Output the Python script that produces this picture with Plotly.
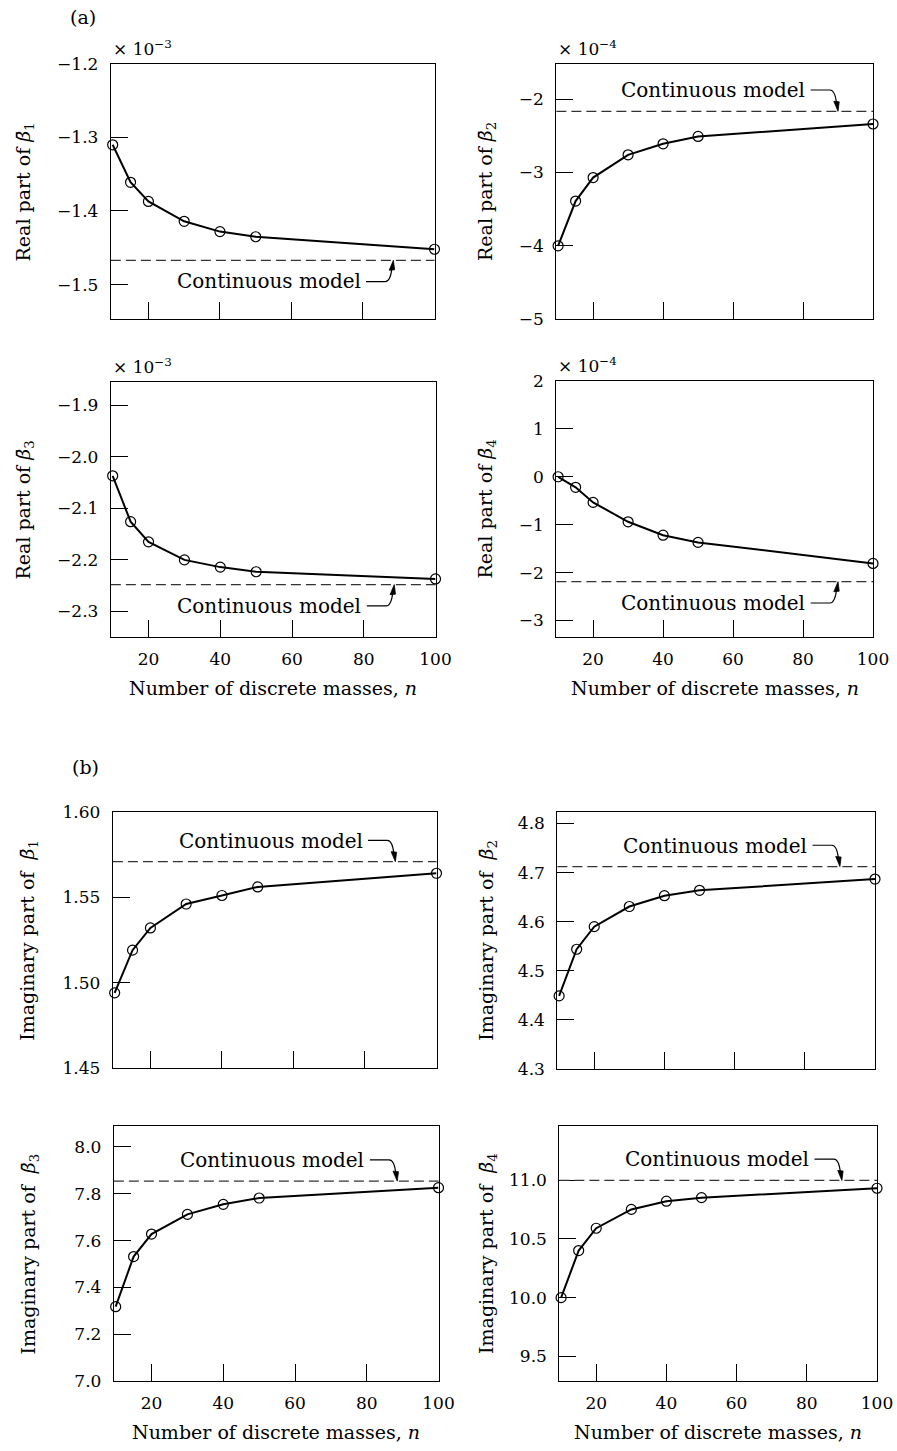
import plotly.graph_objects as go

# ---------------- data ----------------
n_masses = [10, 15, 20, 30, 40, 50, 100]

# (a) real parts (re_beta1, re_beta3 in units of 1e-3; re_beta2, re_beta4 in units of 1e-4)
re_beta1 = [-1.310, -1.361, -1.387, -1.414, -1.428, -1.435, -1.452]
re_beta2 = [-4.00, -3.39, -3.07, -2.76, -2.61, -2.51, -2.34]
re_beta3 = [-2.037, -2.126, -2.165, -2.200, -2.214, -2.223, -2.237]
re_beta4 = [0.00, -0.22, -0.535, -0.94, -1.22, -1.37, -1.81]
continuous_re = [-1.467, -2.167, -2.248, -2.19]

# (b) imaginary parts
im_beta1 = [1.494, 1.519, 1.532, 1.546, 1.551, 1.556, 1.564]
im_beta2 = [4.449, 4.544, 4.590, 4.631, 4.653, 4.664, 4.687]
im_beta3 = [7.318, 7.532, 7.628, 7.712, 7.755, 7.782, 7.826]
im_beta4 = [10.00, 10.40, 10.59, 10.75, 10.82, 10.85, 10.93]
continuous_im = [1.5708, 4.7124, 7.854, 10.996]

x_ticks = [20, 40, 60, 80, 100]
x_title = "Number of discrete masses, <i>n</i>"

# ---------------- layout configuration ----------------
W, H = 897, 1451
FONT = "DejaVu Serif"
XR = (9.5, 100)

# calibration of the photographed page (measured): target px -> figure px
SX = 882 / 897
SY = 1435 / 1451
OY = 8
S = (SX + SY) / 2


def fx(p):           # target x pixel -> paper fraction
    return (p / SX) / W


def fy(p):           # target y pixel -> paper fraction (from bottom)
    return 1 - ((p - OY) / SY) / H


def sz(v):           # target pixel length -> figure pixel length
    return v / S


panels = [
    dict(y=re_beta1, cont=continuous_re[0], xd=(111, 435), yd=(62, 318), yr=(-1.547, -1.2),
         tv=[-1.5, -1.4, -1.3, -1.2], tf=".1f", title="Real part of <i>β̄</i><sub>1</sub>",
         side=-1, mult="× 10<sup>−3</sup>", xlab=False, tx=25, tipn=88.5),
    dict(y=re_beta2, cont=continuous_re[1], xd=(557, 874), yd=(62, 318), yr=(-5, -1.52),
         tv=[-5, -4, -3, -2], tf="d", title="Real part of <i>β̄</i><sub>2</sub>",
         side=1, mult="× 10<sup>−4</sup>", xlab=False, tx=487, tipn=90),
    dict(y=re_beta3, cont=continuous_re[2], xd=(111, 436), yd=(381, 637), yr=(-2.35, -1.855),
         tv=[-2.3, -2.2, -2.1, -2.0, -1.9], tf=".1f", title="Real part of <i>β̄</i><sub>3</sub>",
         side=-1, mult="× 10<sup>−3</sup>", xlab=True, tx=25, tipn=88.5),
    dict(y=re_beta4, cont=continuous_re[3], xd=(557, 874), yd=(380, 637), yr=(-3.35, 2),
         tv=[-3, -2, -1, 0, 1, 2], tf="d", title="Real part of <i>β̄</i><sub>4</sub>",
         side=-1, mult="× 10<sup>−4</sup>", xlab=True, tx=487, tipn=90),
    dict(y=im_beta1, cont=continuous_im[0], xd=(113, 437), yd=(812, 1069), yr=(1.45, 1.60),
         tv=[1.45, 1.50, 1.55, 1.60], tf=".2f", title="Imaginary part of  <i>β̄</i><sub>1</sub>",
         side=1, mult=None, xlab=False, tx=29, tipn=88.5),
    dict(y=im_beta2, cont=continuous_im[1], xd=(558, 876), yd=(812, 1070), yr=(4.3, 4.824),
         tv=[4.3, 4.4, 4.5, 4.6, 4.7, 4.8], tf=".1f", title="Imaginary part of  <i>β̄</i><sub>2</sub>",
         side=1, mult=None, xlab=False, tx=488, tipn=90),
    dict(y=im_beta3, cont=continuous_im[2], xd=(114, 439), yd=(1127, 1383), yr=(7.0, 8.09),
         tv=[7.0, 7.2, 7.4, 7.6, 7.8, 8.0], tf=".1f", title="Imaginary part of  <i>β̄</i><sub>3</sub>",
         side=1, mult=None, xlab=True, tx=30, tipn=88.5),
    dict(y=im_beta4, cont=continuous_im[3], xd=(560, 878), yd=(1127, 1383), yr=(9.29, 11.46),
         tv=[9.5, 10.0, 10.5, 11.0], tf=".1f", title="Imaginary part of  <i>β̄</i><sub>4</sub>",
         side=1, mult=None, xlab=True, tx=488, tipn=90),
]

fig = go.Figure()
annotations = []
shapes = []

F_TICK, F_TITLE, F_LABEL = round(sz(17)), round(sz(19)), round(sz(20))
LEAD = sz(21)

for i, p in enumerate(panels):
    k = "" if i == 0 else str(i + 1)
    xa, ya = "x" + k, "y" + k
    xaxis_name, yaxis_name = "xaxis" + k, "yaxis" + k

    fig.add_trace(go.Scatter(
        x=n_masses, y=p["y"], xaxis=xa, yaxis=ya, mode="lines+markers",
        line=dict(color="black", width=2),
        marker=dict(symbol="circle-open", size=10, color="black", line=dict(width=1.2)),
        cliponaxis=False, showlegend=False, hoverinfo="skip"))

    axis_common = dict(showline=True, linecolor="black", linewidth=1.2, mirror=True,
                       showgrid=False, zeroline=False, ticks="inside", ticklen=round(sz(17)),
                       tickwidth=1.2, tickcolor="black",
                       tickfont=dict(family=FONT, size=F_TICK, color="black"))
    fig.layout[xaxis_name] = dict(
        axis_common, domain=[fx(p["xd"][0]), fx(p["xd"][1])], range=list(XR),
        tickmode="array", tickvals=x_ticks, showticklabels=p["xlab"], anchor=ya,
        ticklabelstandoff=6)
    fig.layout[yaxis_name] = dict(
        axis_common, domain=[fy(p["yd"][1]), fy(p["yd"][0])], range=list(p["yr"]),
        tickmode="array", tickvals=p["tv"], tickformat=p["tf"], anchor=xa,
        ticklabelstandoff=8)

    # continuous model (dashed)
    shapes.append(dict(type="line", xref=xa + " domain", yref=ya, x0=0, x1=1,
                       y0=p["cont"], y1=p["cont"],
                       line=dict(color="#333333", width=1.2, dash="10px,5px")))

    # leader line + arrow head, pixel geometry anchored at the arrow tip
    s = p["side"]
    tip_x = p["tipn"]
    shapes.append(dict(type="path", xref=xa, yref=ya, xsizemode="pixel", ysizemode="pixel",
                       xanchor=tip_x, yanchor=p["cont"],
                       path=(f"M {-sz(27):.1f},{LEAD*s:.1f} L {-sz(8):.1f},{LEAD*s:.1f} "
                             f"Q {-sz(3):.1f},{LEAD*s:.1f} {-sz(1.5):.1f},{sz(8)*s:.1f}"),
                       line=dict(color="black", width=1.2)))
    shapes.append(dict(type="path", xref=xa, yref=ya, xsizemode="pixel", ysizemode="pixel",
                       xanchor=tip_x, yanchor=p["cont"],
                       path=f"M 0,0 L -4.2,{10*s} L 1.2,{9.5*s} Z",
                       fillcolor="black", line=dict(color="black", width=0.8)))

    wpx = (p["xd"][1] - p["xd"][0]) / SX
    hpx = (p["yd"][1] - p["yd"][0]) / SY
    dxp = (XR[1] - XR[0]) / wpx
    dyp = (p["yr"][1] - p["yr"][0]) / hpx
    lab_y = p["cont"] + s * LEAD * dyp
    annotations.append(dict(x=tip_x - sz(31) * dxp, y=lab_y, xref=xa, yref=ya,
                            text="Continuous model", showarrow=False,
                            xanchor="right", yanchor="middle",
                            font=dict(family=FONT, size=F_LABEL, color="black")))

    # y-axis title
    annotations.append(dict(x=fx(p["tx"]), y=fy((p["yd"][0] + p["yd"][1]) / 2),
                            xref="paper", yref="paper", text=p["title"], textangle=-90,
                            showarrow=False, xanchor="center", yanchor="middle",
                            font=dict(family=FONT, size=F_TITLE, color="black")))
    # exponent multiplier
    if p["mult"]:
        annotations.append(dict(x=fx(p["xd"][0]), y=fy(p["yd"][0] - 16),
                                xref="paper", yref="paper", text=p["mult"],
                                showarrow=False, xanchor="left", yanchor="middle",
                                font=dict(family=FONT, size=F_TICK, color="black")))
    # x-axis title
    if p["xlab"]:
        annotations.append(dict(x=fx((p["xd"][0] + p["xd"][1]) / 2),
                                y=fy(p["yd"][1] + 51),
                                xref="paper", yref="paper", text=x_title,
                                showarrow=False, xanchor="center", yanchor="middle",
                                font=dict(family=FONT, size=F_TITLE, color="black")))

annotations.append(dict(x=fx(83), y=fy(15), xref="paper", yref="paper", text="(a)",
                        showarrow=False, xanchor="center", yanchor="middle",
                        font=dict(family=FONT, size=F_TITLE, color="black")))
annotations.append(dict(x=fx(86), y=fy(767), xref="paper", yref="paper", text="(b)",
                        showarrow=False, xanchor="center", yanchor="middle",
                        font=dict(family=FONT, size=F_TITLE, color="black")))

fig.update_layout(width=W, height=H, autosize=False, margin=dict(l=0, r=0, t=0, b=0),
                  paper_bgcolor="white", plot_bgcolor="white",
                  annotations=annotations, shapes=shapes,
                  font=dict(family=FONT, color="black"))

fig.write_html("out.html", config={"displayModeBar": False, "responsive": False},
               post_script="document.body.style.margin='0';"
                           "document.documentElement.style.overflow='hidden';")
